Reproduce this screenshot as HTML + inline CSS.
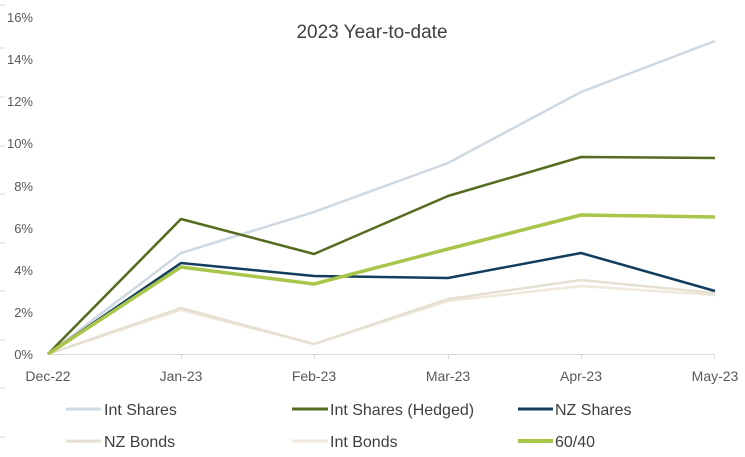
<!DOCTYPE html>
<html><head><style>
html,body{margin:0;padding:0;background:#fff;}
svg{display:block;font-family:"Liberation Sans",Calibri,sans-serif;}
</style></head><body>
<svg width="745" height="457" viewBox="0 0 745 457" xmlns="http://www.w3.org/2000/svg">
<rect width="745" height="457" fill="#fff"/>
<g stroke="#d9d9d9" stroke-width="1">
<line x1="0" y1="5" x2="5" y2="5"/><line x1="0" y1="48" x2="5" y2="48"/><line x1="0" y1="97" x2="5" y2="97"/><line x1="0" y1="146" x2="5" y2="146"/><line x1="0" y1="194" x2="5" y2="194"/><line x1="0" y1="243" x2="5" y2="243"/><line x1="0" y1="291" x2="5" y2="291"/><line x1="0" y1="340" x2="5" y2="340"/><line x1="0" y1="388" x2="5" y2="388"/><line x1="0" y1="437" x2="5" y2="437"/>
</g>
<text x="372" y="38" text-anchor="middle" font-size="19" fill="#404040">2023 Year-to-date</text>
<g font-size="13" fill="#595959" text-anchor="end">
<text x="33" y="22">16%</text><text x="33" y="64">14%</text><text x="33" y="106">12%</text><text x="33" y="148">10%</text><text x="33" y="191">8%</text><text x="33" y="233">6%</text><text x="33" y="275">4%</text><text x="33" y="317">2%</text><text x="33" y="359">0%</text>
</g>
<line x1="48" y1="354.5" x2="715" y2="354.5" stroke="#d9d9d9"/>
<g stroke="#d9d9d9"><line x1="181.5" y1="354" x2="181.5" y2="359"/><line x1="314.5" y1="354" x2="314.5" y2="359"/><line x1="448.5" y1="354" x2="448.5" y2="359"/><line x1="581.5" y1="354" x2="581.5" y2="359"/><line x1="714.5" y1="354" x2="714.5" y2="359"/></g>
<g font-size="14" fill="#595959" text-anchor="middle">
<text x="48" y="381">Dec-22</text><text x="181" y="381">Jan-23</text><text x="314" y="381">Feb-23</text><text x="448" y="381">Mar-23</text><text x="581" y="381">Apr-23</text><text x="715" y="381">May-23</text>
</g>
<g fill="none" stroke-linejoin="round">
<polyline stroke="#cfd9e1" stroke-width="2.5" points="48,354 181,253 314,212 448,163 581,92 715,41"/>
<polyline stroke="#efe8dc" stroke-width="2.5" points="48,354 181,310 314,344 448,301 581,286 715,295"/>
<polyline stroke="#e5e0d2" stroke-width="2.5" points="48,354 181,308 314,344 448,299 581,280 715,293"/>
<polyline stroke="#123d5c" stroke-width="2.5" points="48,354 181,263 314,276 448,278 581,253 715,291"/>
<polyline stroke="#556b1f" stroke-width="2.5" points="48,354 181,219 314,254 448,196 581,157 715,158"/>
<polyline stroke="#a9c64a" stroke-width="3.5" points="48,354 181,267 314,284 448,249 581,215 715,217"/>
</g>
<g stroke-width="3">
<line x1="66" y1="409" x2="101" y2="409" stroke="#cfd9e1"/>
<line x1="292" y1="409" x2="328" y2="409" stroke="#556b1f"/>
<line x1="518" y1="409" x2="553" y2="409" stroke="#123d5c"/>
<line x1="66" y1="441" x2="101" y2="441" stroke="#e5e0d2"/>
<line x1="292" y1="441" x2="328" y2="441" stroke="#efe8dc"/>
<line x1="518" y1="441" x2="553" y2="441" stroke="#a9c64a" stroke-width="4"/>
</g>
<g font-size="16" fill="#404040">
<text x="104" y="415">Int Shares</text><text x="330" y="415">Int Shares (Hedged)</text><text x="555" y="415">NZ Shares</text>
<text x="104" y="447">NZ Bonds</text><text x="330" y="447">Int Bonds</text><text x="555" y="447">60/40</text>
</g>
</svg>
</body></html>
